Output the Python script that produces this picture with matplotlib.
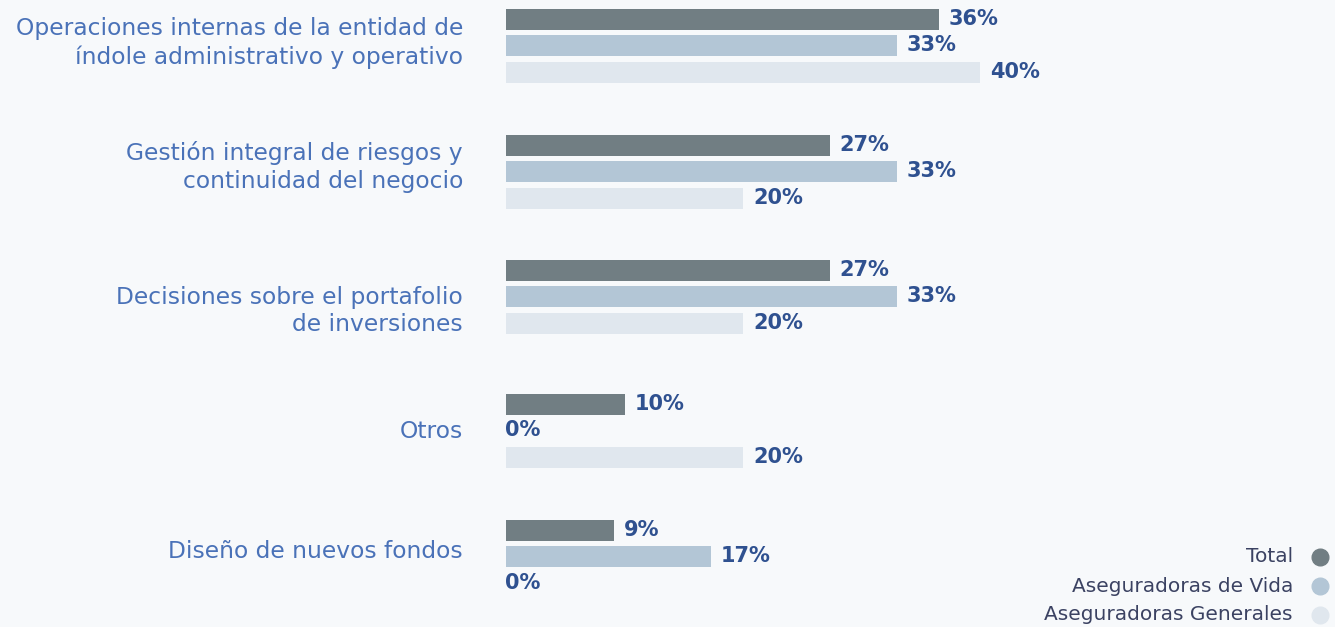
import numpy as np
import matplotlib
matplotlib.use("Agg")
import matplotlib.pyplot as plt
from matplotlib.lines import Line2D

# Data
categories = [
    "Operaciones internas de la entidad de\níndole administrativo y operativo",
    "Gestión integral de riesgos y\ncontinuidad del negocio",
    "Decisiones sobre el portafolio\nde inversiones",
    "Otros",
    "Diseño de nuevos fondos",
]
series_names = ["Total", "Aseguradoras de Vida", "Aseguradoras Generales"]
total = [36.5, 27.3, 27.3, 10.0, 9.1]
vida = [33.0, 33.0, 33.0, 0.0, 17.3]
generales = [40.0, 20.0, 20.0, 20.0, 0.0]
series = [total, vida, generales]

colors = ["#717e83", "#b3c6d6", "#e0e7ee"]
bg = "#f7f9fb"
cat_color = "#4a72b8"
val_color = "#2f5190"
leg_color = "#3b4262"
font = "DejaVu Sans"

W, H = 1335, 627
fig = plt.figure(figsize=(W / 100, H / 100), dpi=100, facecolor=bg)

x0 = 506
px_per_unit = 11.85
xmax = 60
ax = fig.add_axes([x0 / W, 0, xmax * px_per_unit / W, 1])
ax.set_facecolor(bg)
ax.set_xlim(0, xmax)
ax.set_ylim(H, 0)  # y in pixels from top
ax.axis("off")

# layout (pixel rows from top)
group_y = np.array([45.5, 171.5, 296.5, 430.5, 556.5])
label_y = [43, 167, 311, 432, 551]
offsets = [-26, 0, 27]
bar_h = 21

for vals, col, off in zip(series, colors, offsets):
    ys = group_y + off
    ax.barh(ys, vals, height=bar_h, color=col, edgecolor="none")
    for y, v in zip(ys, vals):
        dx = 10 / px_per_unit if v > 0 else -1 / px_per_unit
        ax.text(v + dx, y - 0.5, f"{v:.0f}%", ha="left", va="center",
                fontsize=15, fontweight="bold", color=val_color,
                family=font)

for y, cat in zip(label_y, categories):
    fig.text(463 / W, 1 - y / H, cat, ha="right", va="center",
             fontsize=16.8, color=cat_color, family=font,
             linespacing=1.25)

# Legend (text on the left, dot on the right)
leg_y = [557, 586, 615]
for name, col, y in zip(series_names, colors, leg_y):
    fig.text(1293 / W, 1 - y / H, name, ha="right", va="center",
             fontsize=14.5, color=leg_color, family=font)
    fig.add_artist(Line2D([1320 / W], [1 - y / H], marker="o", markersize=12,
                          color=col, linestyle="none",
                          transform=fig.transFigure))

fig.savefig("out.png", dpi=100, facecolor=bg)
